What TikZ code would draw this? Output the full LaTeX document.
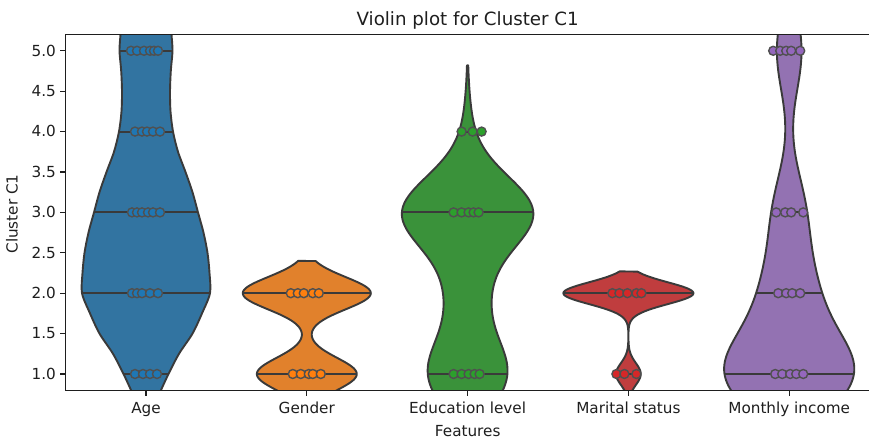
\documentclass[tikz,border=0pt]{standalone}
\usepackage{fontspec}
\setmainfont{DejaVu Sans}
% violin bodies
\definecolor{fA}{HTML}{3274A1}
\definecolor{fG}{HTML}{E1812C}
\definecolor{fE}{HTML}{3A923A}
\definecolor{fM}{HTML}{C03D3E}
\definecolor{fI}{HTML}{9372B2}
% observation markers
\definecolor{dA}{HTML}{1F77B4}
\definecolor{dG}{HTML}{FF7F0E}
\definecolor{dE}{HTML}{2CA02C}
\definecolor{dM}{HTML}{D62728}
\definecolor{dI}{HTML}{9467BD}
\definecolor{outl}{HTML}{3A3A3A}
\definecolor{dotedge}{HTML}{505050}
\definecolor{axisc}{HTML}{1E1E1E}
\begin{document}
\begin{tikzpicture}[x=1bp,y=1bp,
  declare function={
    g(\x,\s)=exp(max(-9,-(\x*\x)/\s));
    hwG(\x)=64*(g(\x-2,0.08)+0.78*g(\x-1,0.08));
    hwE(\x)=64.7*(0.6*g(\x-1,0.405)+0.25*g(\x-2,0.405)+g(\x-3,0.405)+0.05*g(\x-4,0.405))/1.01;
    hwM(\x)=65*(g(\x-2,0.03645)+0.19*g(\x-1,0.03645));
    hwI(\x)=64.7*(0.95*g(\x-1,0.52)+0.34*g(\x-2,0.52)+0.23*g(\x-3,0.52)+0.19*g(\x-5,0.52));
  },
  violin/.style={draw=outl, line width=1.9bp, line join=round},
  stick/.style={draw=outl, line width=1.9bp},
  pt/.style={draw=dotedge, line width=1.4bp},
  spine/.style={draw=axisc, line width=1.3bp},
  ticklab/.style={font=\fontsize{15.3}{18}\selectfont, text=axisc, inner sep=0pt},
]
\useasboundingbox (0,0) rectangle (869,443);

% data coordinates: x in px, y in category value units
\begin{scope}[yshift=-11.8bp, y=80.8bp]
  \begin{scope}
    \clip (65.6,0.8) rectangle (869.7,5.2);

    % Age
    \path[violin, fill=fA] plot[smooth] coordinates {
      (158,0.7) (161,0.8) (168.5,1.0) (179,1.25) (192.5,1.5) (202,1.75) (210,2.0)
      (209.5,2.25) (207.5,2.5) (203.5,2.75) (198,3.0) (192.5,3.25) (185.5,3.5)
      (178,3.75) (173,4.0) (170.5,4.25) (170,4.5) (170.8,4.75) (172.5,5.0) (171.5,5.2) (171,5.3)}
      -- plot[smooth] coordinates {
      (121,5.3) (120.5,5.2) (119.5,5.0) (121.2,4.75) (122,4.5) (121.5,4.25) (119,4.0)
      (114,3.75) (106.5,3.5) (99.5,3.25) (94,3.0) (88.5,2.75) (84.5,2.5) (82.5,2.25)
      (82,2.0) (90,1.75) (99.5,1.5) (113,1.25) (123.5,1.0) (131,0.8) (134,0.7)} -- cycle;
    \draw[stick] (123.5,1) -- (168.5,1);
    \draw[stick] (82,2) -- (210,2);
    \draw[stick] (94,3) -- (198,3);
    \draw[stick] (119,4) -- (173,4);
    \draw[stick] (119.5,5) -- (172.5,5);

    % Gender
    \path[violin, fill=fG]
      plot[domain=0.75:2.4, samples=170, variable=\t] ({306.8+hwG(\t)},\t)
      -- plot[domain=2.4:0.75, samples=170, variable=\t] ({306.8-hwG(\t)},\t) -- cycle;
    \foreach \v in {1,2}
      \draw[stick] ({306.8-hwG(\v)},\v) -- ({306.8+hwG(\v)},\v);

    % Education level
    \path[violin, fill=fE]
      plot[domain=0.75:4.82, samples=240, variable=\t] ({467.6+hwE(\t)},\t)
      -- plot[domain=4.82:0.75, samples=240, variable=\t] ({467.6-hwE(\t)},\t) -- cycle;
    \foreach \v in {1,3,4}
      \draw[stick] ({467.6-hwE(\v)},\v) -- ({467.6+hwE(\v)},\v);

    % Marital status
    \path[violin, fill=fM]
      plot[domain=0.75:2.27, samples=220, variable=\t] ({628.4+hwM(\t)},\t)
      -- plot[domain=2.27:0.75, samples=220, variable=\t] ({628.4-hwM(\t)},\t) -- cycle;
    \foreach \v in {1,2}
      \draw[stick] ({628.4-hwM(\v)},\v) -- ({628.4+hwM(\v)},\v);

    % Monthly income
    \path[violin, fill=fI]
      plot[domain=0.75:5.3, samples=240, variable=\t] ({789.2+hwI(\t)},\t)
      -- plot[domain=5.3:0.75, samples=240, variable=\t] ({789.2-hwI(\t)},\t) -- cycle;
    \foreach \v in {1,2,3,5}
      \draw[stick] ({789.2-hwI(\v)},\v) -- ({789.2+hwI(\v)},\v);

    % observations
    \foreach \o in {-15,-9,-2,4,8,12} \filldraw[pt, fill=dA] ({146+\o},5) circle[radius=4.5bp];
    \foreach \o in {-11,-4,1,7,14}    \filldraw[pt, fill=dA] ({146+\o},4) circle[radius=4.5bp];
    \foreach \o in {-14,-9,-4,2,7,14} \filldraw[pt, fill=dA] ({146+\o},3) circle[radius=4.5bp];
    \foreach \o in {-14,-9,-4,4,12}   \filldraw[pt, fill=dA] ({146+\o},2) circle[radius=4.5bp];
    \foreach \o in {-11,-3,4,11}      \filldraw[pt, fill=dA] ({146+\o},1) circle[radius=4.5bp];

    \foreach \o in {-16,-9,-3,6,12}   \filldraw[pt, fill=dG] ({306.8+\o},2) circle[radius=4.5bp];
    \foreach \o in {-14,-6,2,6,14}    \filldraw[pt, fill=dG] ({306.8+\o},1) circle[radius=4.5bp];

    \foreach \o in {-6,5,14}          \filldraw[pt, fill=dE] ({467.6+\o},4) circle[radius=4.5bp];
    \foreach \o in {-14,-6,1,6,11}    \filldraw[pt, fill=dE] ({467.6+\o},3) circle[radius=4.5bp];
    \foreach \o in {-14,-6,1,7,12}    \filldraw[pt, fill=dE] ({467.6+\o},1) circle[radius=4.5bp];

    \foreach \o in {-16,-9,-1,8,13}   \filldraw[pt, fill=dM] ({628.4+\o},2) circle[radius=4.5bp];
    \foreach \o in {-12,-4,8}         \filldraw[pt, fill=dM] ({628.4+\o},1) circle[radius=4.5bp];

    \foreach \o in {-16,-9,-3,2,11}   \filldraw[pt, fill=dI] ({789.2+\o},5) circle[radius=4.5bp];
    \foreach \o in {-13,-4,2,14}      \filldraw[pt, fill=dI] ({789.2+\o},3) circle[radius=4.5bp];
    \foreach \o in {-11,-3,3,11}      \filldraw[pt, fill=dI] ({789.2+\o},2) circle[radius=4.5bp];
    \foreach \o in {-14,-7,1,7,14}    \filldraw[pt, fill=dI] ({789.2+\o},1) circle[radius=4.5bp];
  \end{scope}

  % axes frame and ticks
  \draw[spine] (869.7,0.8) -- (65.6,0.8) -- (65.6,5.2) -- (869.7,5.2);
  \foreach \v in {1.0,1.5,2.0,2.5,3.0,3.5,4.0,4.5,5.0}{
    \draw[spine] (65.6,\v) -- ++(-6bp,0);
    \node[ticklab, anchor=base east, yshift=-5.4bp] at (56,\v) {\v};
  }
  \foreach \c in {0,...,4}
    \draw[spine] ({146+160.8*\c},0.8) -- ++(0,-6bp);
\end{scope}

% category labels
\foreach \c/\lab in {0/Age,1/Gender,2/Education level,3/Marital status,4/Monthly income}
  \node[ticklab, anchor=base] at ({146+160.8*\c},29) {\lab};

% titles
\node[ticklab, anchor=base] (xlab) at (467.7,6) {Features};
\node[ticklab, rotate=90] (ylab) at (12,229) {Cluster C1};
\node[font=\fontsize{18.3}{22}\selectfont, text=axisc, inner sep=0pt, anchor=base] (title) at (467.7,417.5) {Violin plot for Cluster C1};
\end{tikzpicture}
\end{document}
